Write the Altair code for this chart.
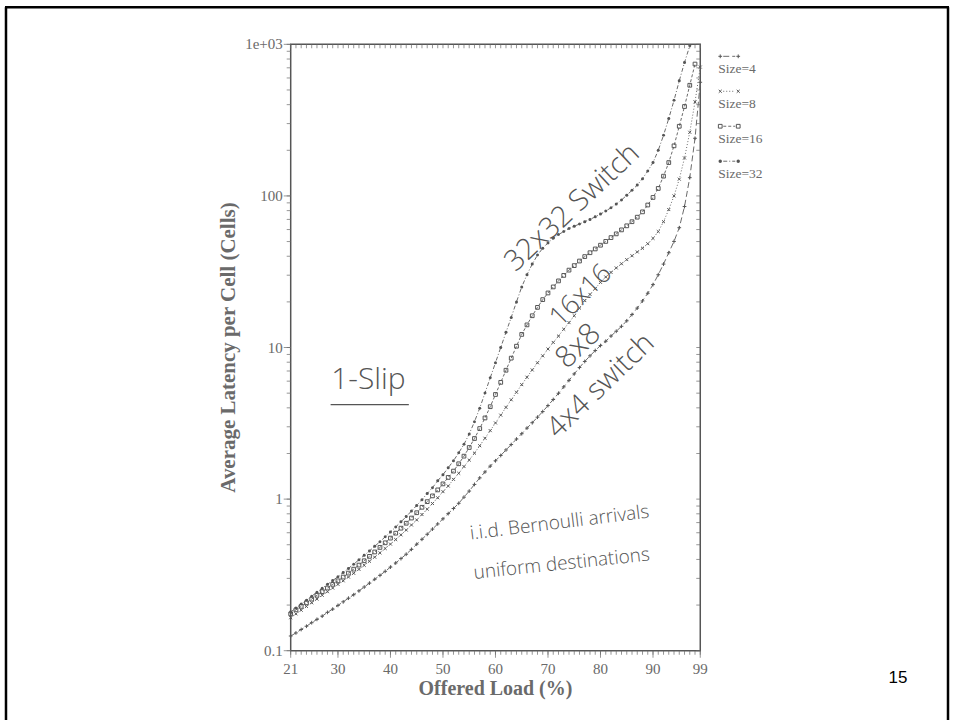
import altair as alt
import pandas as pd

# ---------------- data ----------------
loads = list(range(21, 100))
series_names = ["Size=4", "Size=8", "Size=16", "Size=32"]

lat_4 = [0.125, 0.131, 0.138, 0.145, 0.153, 0.161, 0.169, 0.179, 0.188, 0.199,
         0.210, 0.222, 0.234, 0.248, 0.263, 0.279, 0.296, 0.314, 0.334, 0.356,
         0.379, 0.405, 0.433, 0.466, 0.504, 0.543, 0.586, 0.634, 0.686, 0.741,
         0.802, 0.867, 0.938, 1.03, 1.13, 1.25, 1.38, 1.51, 1.65, 1.79,
         1.94, 2.11, 2.29, 2.49, 2.70, 2.94, 3.19, 3.47, 3.78, 4.14,
         4.54, 4.99, 5.50, 6.07, 6.70, 7.38, 8.09, 8.81, 9.55, 10.3,
         11.0, 11.9, 12.8, 13.8, 15.0, 16.5, 18.2, 20.3, 22.8, 26.0,
         30.2, 35.5, 42.2, 50.1, 61.7, 85.1, 132, 240, 562]

lat_8 = [0.165, 0.175, 0.185, 0.196, 0.207, 0.219, 0.232, 0.245, 0.259, 0.274,
         0.289, 0.306, 0.324, 0.344, 0.366, 0.389, 0.414, 0.442, 0.472, 0.505,
         0.541, 0.581, 0.625, 0.675, 0.729, 0.791, 0.859, 0.935, 1.02, 1.12,
         1.22, 1.35, 1.48, 1.64, 1.81, 2.01, 2.25, 2.52, 2.83, 3.18,
         3.58, 4.03, 4.52, 5.07, 5.69, 6.37, 7.11, 7.93, 8.81, 9.77,
         10.8, 11.9, 13.2, 14.6, 16.2, 18.2, 20.4, 22.4, 24.5, 26.9,
         29.2, 31.3, 33.5, 35.7, 38.0, 40.3, 42.7, 45.2, 48.4, 52.5,
         58.2, 67.6, 81.3, 100, 129, 178, 263, 417, 708]

lat_16 = [0.175, 0.186, 0.196, 0.207, 0.219, 0.232, 0.245, 0.259, 0.274, 0.289,
          0.306, 0.325, 0.345, 0.367, 0.392, 0.419, 0.448, 0.480, 0.515, 0.553,
          0.596, 0.643, 0.693, 0.750, 0.813, 0.883, 0.962, 1.05, 1.15, 1.26,
          1.39, 1.53, 1.71, 1.92, 2.19, 2.51, 2.92, 3.43, 4.07, 4.90,
          5.89, 7.08, 8.51, 10.2, 12.2, 14.1, 16.2, 18.4, 20.7, 22.9,
          25.1, 27.5, 29.9, 32.4, 34.7, 37.2, 39.8, 42.2, 44.7, 47.3,
          50.1, 53.1, 56.2, 59.7, 63.5, 67.6, 72.4, 78.5, 87.1, 97.7,
          112, 135, 166, 214, 288, 389, 537, 741]

lat_32 = [0.180, 0.191, 0.203, 0.215, 0.229, 0.243, 0.258, 0.274, 0.290, 0.308,
          0.328, 0.349, 0.372, 0.398, 0.426, 0.455, 0.488, 0.524, 0.564, 0.607,
          0.655, 0.708, 0.767, 0.834, 0.908, 0.991, 1.09, 1.19, 1.32, 1.45,
          1.61, 1.79, 2.02, 2.30, 2.69, 3.24, 3.98, 5.01, 6.31, 7.94,
          10.0, 12.6, 15.8, 20.0, 25.1, 30.2, 35.5, 40.7, 45.2, 49.0,
          52.5, 55.6, 58.2, 61.0, 63.1, 65.3, 67.6, 70.0, 72.8, 75.9,
          79.4, 83.6, 88.3, 94.0, 101, 109, 118, 130, 146, 166,
          200, 251, 324, 427, 575, 759, 977]

x_major = [21, 30, 40, 50, 60, 70, 80, 90, 99]
x_major_labels = ["21", "30", "40", "50", "60", "70", "80", "90", "99"]
y_major = [0.1, 1, 10, 100, 1000]
y_major_labels = ["0.1", "1", "10", "100", "1e+03"]
y_ticks = [0.1, 0.2, 0.3, 0.4, 0.5, 0.6, 0.7, 0.8, 0.9,
           1, 2, 3, 4, 5, 6, 7, 8, 9,
           10, 20, 30, 40, 50, 60, 70, 80, 90,
           100, 200, 300, 400, 500, 600, 700, 800, 900, 1000]

x_title = "Offered Load (%)"
y_title = "Average Latency per Cell (Cells)"

# hand-written annotations (text, load, latency, angle, font size)
annot_text = ["32x32 Switch", "16x16", "8x8", "4x4 switch", "1-Slip",
              "i.i.d. Bernoulli arrivals", "uniform destinations"]
annot_load = [74.6, 76.3, 75.8, 80.0, 35.8, 72.2, 72.6]
annot_lat = [84, 22, 10.2, 5.6, 6.1, 0.70, 0.375]
annot_angle = [317, 315, 316, 316, 0, 353, 354]
annot_size = [29, 27, 30, 29, 30, 19, 19]

underline_load = [28.6]
underline_load2 = [43.5]
underline_lat = [4.2]

rows = []
for name, vals in zip(series_names, [lat_4, lat_8, lat_16, lat_32]):
    for ld, v in zip(loads, vals):
        rows.append({"load": ld, "latency": v, "series": name})
df = pd.DataFrame(rows)

annot_df = pd.DataFrame({"text": annot_text, "load": annot_load, "latency": annot_lat,
                         "angle": annot_angle, "fsize": annot_size})
ul_df = pd.DataFrame({"load": underline_load, "load2": underline_load2, "latency": underline_lat})
xtick_df = pd.DataFrame({"load": loads})
xmaj_df = pd.DataFrame({"load": x_major, "label": x_major_labels})
ytick_df = pd.DataFrame({"latency": y_ticks})
ymaj_df = pd.DataFrame({"latency": y_major, "label": y_major_labels})

# ---------------- styling ----------------
W, H = 410, 607
GRAY = "#6a6a6a"
INK = "#555555"
SERIF = "Liberation Serif"
HAND = "Open Sans"

PLUS = "M-1,0L1,0M0,-1L0,1"
CROSS = "M-0.8,-0.8L0.8,0.8M-0.8,0.8L0.8,-0.8"
shape_range = [PLUS, CROSS, "square", "circle"]
dash_range = [[6, 3], [1, 2], [3, 2], [4, 2, 1, 2]]

x_scale = alt.Scale(domain=[21, 99], nice=False, zero=False)
y_scale = alt.Scale(type="log", domain=[0.1, 1000], nice=False)
X = lambda f="load:Q": alt.X(f, scale=x_scale, axis=None)
Y = lambda f="latency:Q": alt.Y(f, scale=y_scale, axis=None)

lines = alt.Chart(df).mark_line(strokeWidth=1, color=GRAY).encode(
    x=X(), y=Y(), detail="series:N",
    strokeDash=alt.StrokeDash("series:N", scale=alt.Scale(domain=series_names, range=dash_range),
                              legend=None),
)
open_points = alt.Chart(df).transform_filter(alt.datum.series != "Size=32").mark_point(
    filled=False, strokeWidth=1, color=INK, opacity=1, size=14).encode(
    x=X(), y=Y(),
    shape=alt.Shape("series:N", scale=alt.Scale(domain=series_names, range=shape_range), legend=None),
)
dot_points = alt.Chart(df).transform_filter(alt.datum.series == "Size=32").mark_circle(
    size=9, color=INK, opacity=1).encode(x=X(), y=Y())

# axis ticks and labels (drawn through the scales)
tick_kw = dict(color=GRAY, thickness=1)
bottom_minor = alt.Chart(xtick_df).mark_tick(orient="vertical", size=4, **tick_kw).encode(
    x=X(), y=alt.value(H + 2))
bottom_major = alt.Chart(xmaj_df).mark_tick(orient="vertical", size=7, **tick_kw).encode(
    x=X(), y=alt.value(H + 3.5))
top_minor = alt.Chart(xtick_df).mark_tick(orient="vertical", size=4, **tick_kw).encode(
    x=X(), y=alt.value(2))
left_minor = alt.Chart(ytick_df).mark_tick(orient="horizontal", size=4, **tick_kw).encode(
    y=Y(), x=alt.value(-2))
left_major = alt.Chart(ymaj_df).mark_tick(orient="horizontal", size=7, **tick_kw).encode(
    y=Y(), x=alt.value(-3.5))
right_minor = alt.Chart(ytick_df).mark_tick(orient="horizontal", size=4, **tick_kw).encode(
    y=Y(), x=alt.value(W - 2))

x_labels = alt.Chart(xmaj_df).mark_text(font=SERIF, fontSize=15, color=GRAY, baseline="middle").encode(
    x=X(), y=alt.value(H + 18), text="label:N")
y_labels = alt.Chart(ymaj_df).mark_text(font=SERIF, fontSize=15, color=GRAY, align="right",
                                        baseline="middle").encode(
    y=Y(), x=alt.value(-8), text="label:N")

one = alt.Data(values=[{"k": 1}])
x_title_mark = alt.Chart(one).mark_text(font=SERIF, fontSize=20, fontWeight="bold", color=GRAY,
                                        baseline="middle").encode(
    x=alt.value(W / 2), y=alt.value(H + 38), text=alt.value(x_title))
y_title_mark = alt.Chart(one).mark_text(font=SERIF, fontSize=21, fontWeight="bold", color=GRAY,
                                        baseline="middle", angle=270).encode(
    x=alt.value(-62), y=alt.value(H / 2), text=alt.value(y_title))

# legend (outside right of the plot)
legend_layers = []
for i, name in enumerate(series_names):
    sy = 12 + 35 * i
    legend_layers.append(alt.Chart(one).mark_rule(color=GRAY, strokeWidth=1, strokeDash=dash_range[i]).encode(
        x=alt.value(W + 23), x2=alt.value(W + 35), y=alt.value(sy)))
    for sx in (W + 20, W + 38):
        if name == "Size=32":
            sym = alt.Chart(one).mark_circle(size=12, color=INK, opacity=1)
        else:
            sym = alt.Chart(one).mark_point(filled=False, strokeWidth=1, color=INK, opacity=1,
                                            size=14, shape=shape_range[i])
        legend_layers.append(sym.encode(x=alt.value(sx), y=alt.value(sy)))
    legend_layers.append(alt.Chart(one).mark_text(font=SERIF, fontSize=13.5, color=GRAY, align="left",
                                                  baseline="middle").encode(
        x=alt.value(W + 18), y=alt.value(sy + 13), text=alt.value(name)))

annots = alt.Chart(annot_df).mark_text(font=HAND, fontWeight=300, color=INK).encode(
    x=X(), y=Y(), text="text:N",
    angle=alt.Angle("angle:Q", scale=None),
    size=alt.Size("fsize:Q", scale=None),
)
underline = alt.Chart(ul_df).mark_rule(color=INK, strokeWidth=1.3).encode(
    x=X(), x2="load2:Q", y=Y())

# slide frame and page number
border_left = alt.Chart(one).mark_rule(color="black", strokeWidth=2.5).encode(
    x=alt.value(-285), y=alt.value(-37), y2=alt.value(677))
border_right = alt.Chart(one).mark_rule(color="black", strokeWidth=2.5).encode(
    x=alt.value(658), y=alt.value(-37), y2=alt.value(677))
border_top = alt.Chart(one).mark_rule(color="black", strokeWidth=2.5).encode(
    x=alt.value(-286), x2=alt.value(659), y=alt.value(-37))
page_no = alt.Chart(one).mark_text(font="Liberation Sans", fontSize=17, color="black").encode(
    x=alt.value(608), y=alt.value(634), text=alt.value("15"))

chart = alt.layer(
    lines, open_points, dot_points,
    bottom_minor, bottom_major, top_minor, left_minor, left_major, right_minor,
    x_labels, y_labels, x_title_mark, y_title_mark,
    *legend_layers,
    annots, underline,
    border_left, border_right, border_top, page_no,
).properties(
    width=W, height=H,
    padding={"left": 3, "top": 5, "right": 3, "bottom": 0},
    background="white",
).configure_view(stroke="#555555", strokeWidth=1.5)

chart.save("out.html", embed_options={"renderer": "svg", "actions": False})
